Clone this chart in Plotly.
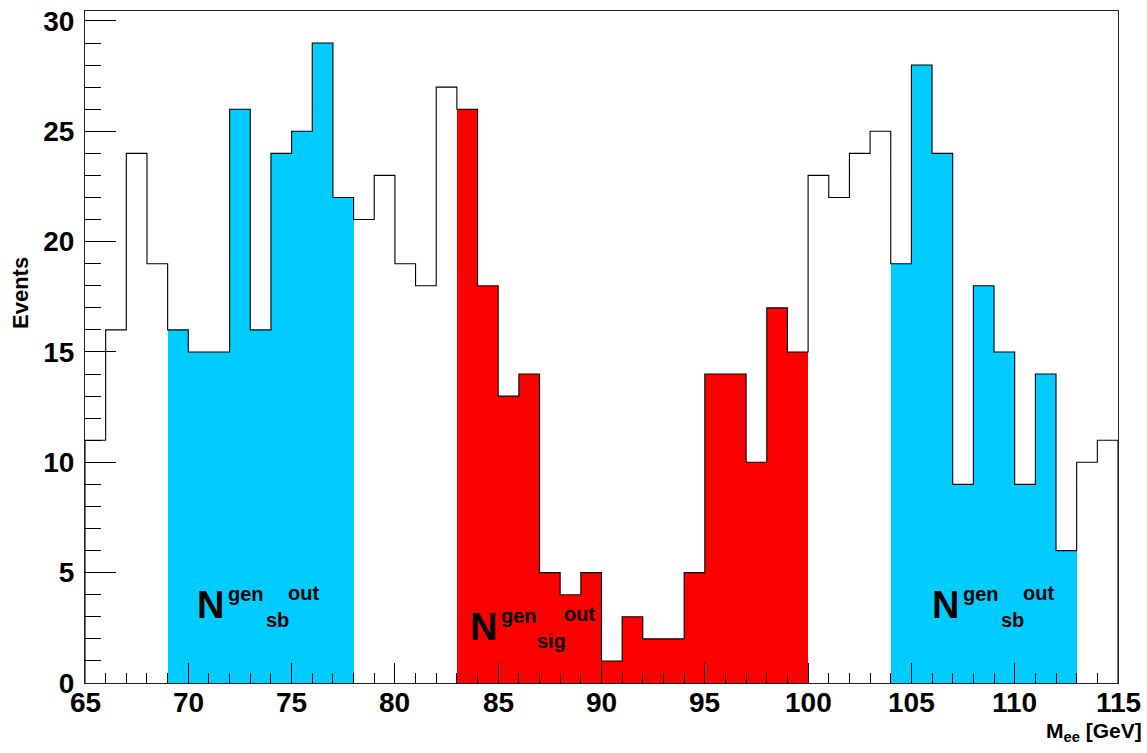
import plotly.graph_objects as go

# ---- data ----
bin_lo = list(range(65, 115))          # lower edges of 1 GeV bins, 65..114
counts = [11, 16, 24, 19, 16, 15, 15, 26, 16, 24,
          25, 29, 22, 21, 23, 19, 18, 27, 26, 18,
          13, 14, 5, 4, 5, 1, 3, 2, 2, 5,
          14, 14, 10, 17, 15, 23, 22, 24, 25, 19,
          28, 24, 9, 18, 15, 9, 14, 6, 10, 11]
sideband_ranges = [(69, 78), (104, 113)]   # [lo, hi) in GeV
signal_range = (83, 100)
x_ticks = [65, 70, 75, 80, 85, 90, 95, 100, 105, 110, 115]
x_tick_text = ["65", "70", "75", "80", "85", "90", "95", "100", "105", "110", "115"]
y_ticks = [0, 5, 10, 15, 20, 25, 30]

BLUE = "#00CCFF"
RED = "#FF0000"
FONT = "Liberation Sans"

# plot area in pixels
W, H = 1147, 753
L, R, T, B = 85, 1118, 11, 683

fig = go.Figure()


def in_range(x, rng):
    return rng[0] <= x < rng[1]


sb_x = [x + 0.5 for x, c in zip(bin_lo, counts) if any(in_range(x, r) for r in sideband_ranges)]
sb_y = [c for x, c in zip(bin_lo, counts) if any(in_range(x, r) for r in sideband_ranges)]
sig_x = [x + 0.5 for x, c in zip(bin_lo, counts) if in_range(x, signal_range)]
sig_y = [c for x, c in zip(bin_lo, counts) if in_range(x, signal_range)]

fig.add_trace(go.Bar(x=sb_x, y=sb_y, width=1, marker=dict(color=BLUE, line=dict(width=0)),
                     showlegend=False, hoverinfo="skip"))
fig.add_trace(go.Bar(x=sig_x, y=sig_y, width=1, marker=dict(color=RED, line=dict(width=0)),
                     showlegend=False, hoverinfo="skip"))

# step outline of the histogram
step_x = [bin_lo[0]] + bin_lo + [bin_lo[-1] + 1, bin_lo[-1] + 1]
step_y = [0] + counts + [counts[-1], 0]
fig.add_trace(go.Scatter(x=step_x, y=step_y, mode="lines", line=dict(color="black", width=1.1, shape="hv"),
                         showlegend=False, hoverinfo="skip"))

ymax = max(counts) * 1.05

fig.update_layout(
    width=W, height=H,
    margin=dict(l=L, r=W - R, t=T, b=H - B, autoexpand=False),
    paper_bgcolor="white", plot_bgcolor="white",
    bargap=0, barmode="overlay",
    xaxis=dict(range=[65, 115], tickvals=x_ticks, ticks="inside", ticklen=20, tickwidth=1,
               tickcolor="black", showgrid=False, zeroline=False, showticklabels=False,
               showline=True, linecolor="#222222", linewidth=1, mirror=True,
               minor=dict(dtick=1, tick0=65, ticks="inside", ticklen=10, tickcolor="black", showgrid=False)),
    yaxis=dict(range=[0, ymax], tickvals=y_ticks, ticks="inside", ticklen=31, tickwidth=1,
               tickcolor="black", showgrid=False, zeroline=False,
               showline=True, linecolor="#222222", linewidth=1, mirror=True,
               minor=dict(dtick=1, tick0=0, ticks="inside", ticklen=16, tickcolor="black", showgrid=False),
               tickfont=dict(family=FONT, size=28, color="black", weight="bold"),
               ticklabelstandoff=4),
)


def px2paper(px, py):
    return (px - L) / (R - L), (B - py) / (B - T)


def add_text(text, px, py, size, xanchor="left", yanchor="middle", angle=0):
    x, y = px2paper(px, py)
    fig.add_annotation(text=text, x=x, y=y, xref="paper", yref="paper", showarrow=False,
                       xanchor=xanchor, yanchor=yanchor, textangle=angle,
                       font=dict(family=FONT, size=size, color="black", weight="bold"))


# x tick labels placed on the data axis
for xv, txt in zip(x_ticks, x_tick_text):
    fig.add_annotation(text=txt, x=xv, y=(B - 703) / (B - T), xref="x", yref="paper",
                       showarrow=False, xanchor="center", yanchor="middle",
                       font=dict(family=FONT, size=28, color="black", weight="bold"))

# N^{gen}_{sb}^{out} labels
labels = [
    ("sb", 197, 603),
    ("sig", 470, 625),
    ("sb", 932, 603),
]
for sub, nx, ny in labels:
    add_text("N", nx - 2, ny + 2, 38)
    add_text("gen", nx + 29, ny - 9, 20)
    if sub == "sb":
        add_text("out", nx + 89, ny - 10, 20)
        add_text("sb", nx + 67, ny + 17, 20)
    else:
        add_text("out", nx + 92, ny - 11, 20)
        add_text("sig", nx + 65, ny + 16, 20)

add_text("Events", 21, 293, 22, xanchor="center", angle=-90)
add_text("M<sub>ee</sub> [GeV]", 1144, 732, 21, xanchor="right")

fig.write_html("out.html", config={"displayModeBar": False},
               post_script="document.body.style.margin='0';document.body.style.overflow='hidden';")
